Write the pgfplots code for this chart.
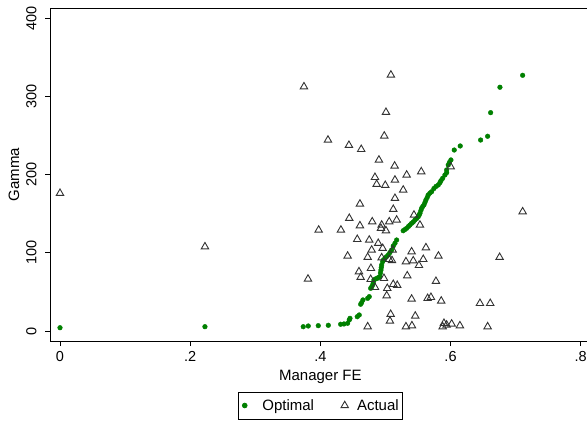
\documentclass[border=0pt]{standalone}
\usepackage{pgfplots}
\pgfplotsset{compat=1.18}
\usepackage{fontspec}
\setmainfont{Liberation Sans}
\definecolor{stgreen}{RGB}{0,128,0}
\begin{document}
\begin{tikzpicture}[x=1bp,y=1bp]
\path[use as bounding box] (0,0) rectangle (587,422);
\begin{axis}[
 at={(50.3bp,81bp)}, anchor=south west,
 scale only axis, width=540.1bp, height=332.7bp,
 xmin=-0.0149, xmax=0.8149, ymin=-12.8, ymax=412.8,
 axis line style={line width=0.8bp},
 tick style={line width=0.8bp, black},
 tick align=outside, major tick length=5bp,
 xtick={0,0.2,0.4,0.6,0.8},
 ytick={0,100,200,300,400},
 xtick pos=bottom, ytick pos=left,
 /pgf/number format/assume math mode=true,
 ticklabel style={font=\fontsize{14.5bp}{17bp}\selectfont},
 xticklabel style={/pgf/number format/skip 0., /pgf/number format/precision=2, inner ysep=5.6bp},
 yticklabel style={rotate=90, anchor=south, inner xsep=0pt, inner ysep=8.6bp},
 xlabel={Manager FE}, ylabel={Gamma},
 every axis x label/.style={at={(axis description cs:0.5,-0.1175)}, anchor=base, font=\fontsize{15bp}{18bp}\selectfont},
 every axis y label/.style={at={(axis description cs:-0.0672,0.5)}, rotate=90, anchor=center, font=\fontsize{15bp}{18bp}\selectfont},
 legend columns=2,
 legend style={at={(axis description cs:0.5,-0.1939)}, anchor=center, draw=black, line width=0.8bp,
   font=\fontsize{15bp}{18bp}\selectfont, inner xsep=3.35bp, inner ysep=7.4bp,
   nodes={inner sep=0pt},
   /tikz/every even column/.append style={column sep=25.7bp}},
]
\addplot[only marks, mark=*, mark size=2.35bp, color=stgreen,
  legend image code/.code={\path[draw=none,fill=none] (0bp,0bp) -- (17.6bp,0bp); \fill[stgreen] (0bp,0bp) circle[radius=2.35bp];}] table {
x y
0.0000 4.2
0.2227 5.5
0.3737 5.5
0.3814 6.4
0.3968 6.8
0.4122 7.3
0.4312 8.6
0.4363 9.0
0.4419 9.9
0.4444 14.1
0.4455 16.2
0.4567 18.3
0.4597 20.5
0.4619 34.2
0.4634 36.2
0.4654 39.7
0.4727 41.8
0.4751 43.9
0.4773 54.6
0.4788 56.3
0.4803 58.8
0.4813 61.4
0.4823 65.2
0.4846 66.5
0.4874 67.4
0.4892 68.4
0.4916 69.5
0.4923 74.2
0.4931 78.0
0.4936 81.2
0.4942 84.4
0.4957 88.7
0.4969 90.8
0.4992 93.0
0.5015 95.0
0.5043 97.2
0.5069 100.4
0.5095 103.6
0.5120 108.7
0.5146 112.2
0.5172 116.4
0.5273 128.3
0.5300 129.8
0.5326 131.4
0.5353 133.7
0.5376 135.6
0.5402 137.8
0.5427 139.4
0.5453 142.0
0.5479 143.9
0.5504 146.2
0.5518 148.4
0.5530 150.6
0.5545 154.2
0.5556 157.0
0.5573 159.3
0.5591 161.2
0.5607 164.4
0.5622 167.6
0.5641 170.8
0.5657 174.0
0.5684 176.5
0.5710 178.2
0.5745 182.3
0.5776 184.9
0.5811 186.8
0.5837 189.7
0.5853 192.3
0.5879 195.3
0.5914 199.6
0.5940 202.5
0.5940 206.0
0.5965 212.4
0.5983 215.6
0.6006 218.8
0.6057 231.5
0.6149 236.7
0.6462 244.3
0.6570 249.1
0.6616 279.3
0.6759 311.8
0.7108 327.1
};
\addlegendentry{Optimal}
\addplot[only marks, mark=triangle, mark size=4.3bp, color=black!80, mark options={line width=0.9bp},
  legend image code/.code={\path[draw=none,fill=none] (-5bp,0bp) -- (12.3bp,0bp); \path[draw=none] plot[mark=triangle, mark size=4.3bp, mark options={draw=black!80, line width=0.9bp}] coordinates {(0bp,0bp)};}] table {
x y
0.0000 176.2
0.2227 107.8
0.3748 312.5
0.3810 66.5
0.5084 327.5
0.5008 279.8
0.4117 244.3
0.4982 249.5
0.4439 237.6
0.4628 232.4
0.4900 218.8
0.5141 211.1
0.5326 199.6
0.5550 203.8
0.4839 196.6
0.4865 187.7
0.4997 186.4
0.5146 193.2
0.5273 180.4
0.5146 169.8
0.4608 162.5
0.5120 155.7
0.4444 144.2
0.4797 139.8
0.4942 135.6
0.5058 139.8
0.5172 142.0
0.4608 134.7
0.4931 131.4
0.5008 128.3
0.3974 129.2
0.4316 129.2
0.5438 148.4
0.5530 135.6
0.4567 117.3
0.4751 116.4
0.4889 112.2
0.4788 103.6
0.4957 105.8
0.5111 103.6
0.4419 95.9
0.4727 94.3
0.4942 93.8
0.5058 91.7
0.5100 90.2
0.5402 101.4
0.5622 106.6
0.5814 95.9
0.5315 88.7
0.5427 89.9
0.5581 91.7
0.5515 84.0
0.4777 80.2
0.4593 75.9
0.4619 68.7
0.4773 66.1
0.4977 67.4
0.5335 70.7
0.5776 63.6
0.5120 59.7
0.5181 58.5
0.4839 55.9
0.5028 54.6
0.5019 45.2
0.5402 40.9
0.5648 41.8
0.5699 43.1
0.5857 38.4
0.5080 21.4
0.5458 19.2
0.5069 12.8
0.4727 5.5
0.5315 5.5
0.5407 6.8
0.5899 9.9
0.5940 7.7
0.5879 5.5
0.6017 9.0
0.6144 6.8
0.6570 5.5
0.6002 210.2
0.7108 152.6
0.6754 94.3
0.6452 35.4
0.6610 35.4
};
\addlegendentry{Actual\hspace{7.95bp}}
\end{axis}
\end{tikzpicture}
\end{document}
